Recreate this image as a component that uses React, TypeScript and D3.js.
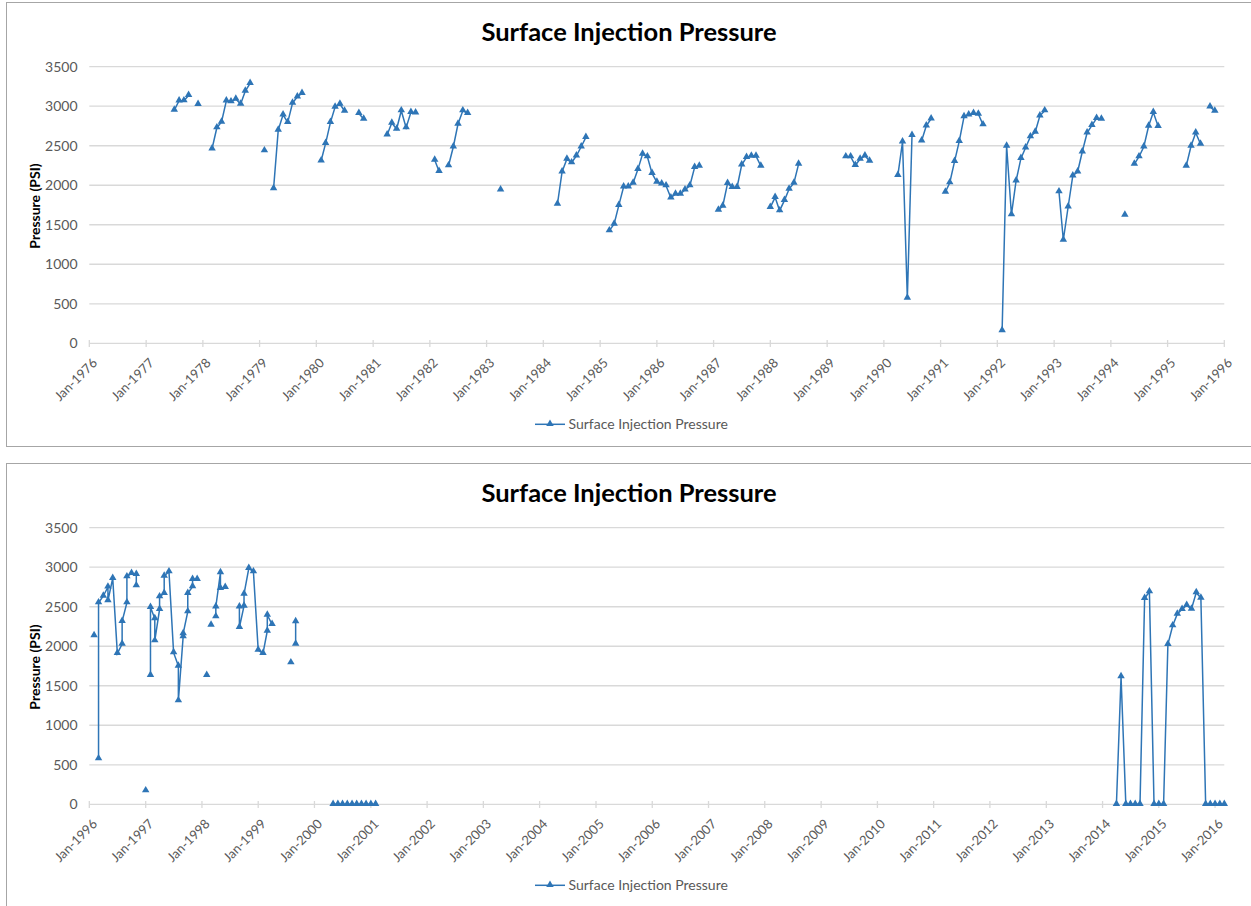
import React from 'react';
import * as d3 from 'd3';

// --- data (monthly readings, null = gap) ---
const topMonths = [
  '1977-07', '1977-08', '1977-09', '1977-10', '1977-11',
  '1977-12', '1978-01',
  '1978-03', '1978-04', '1978-05', '1978-06', '1978-07', '1978-08', '1978-09', '1978-10', '1978-11', '1978-12',
  '1979-02', '1979-03',
  '1979-04', '1979-05', '1979-06', '1979-07', '1979-08', '1979-09', '1979-10', '1979-11',
  '1980-02', '1980-03', '1980-04', '1980-05', '1980-06', '1980-07', '1980-08',
  '1980-10', '1980-11', '1980-12',
  '1981-04', '1981-05', '1981-06', '1981-07', '1981-08', '1981-09', '1981-10', '1981-11',
  '1982-02', '1982-03', '1982-04',
  '1982-05', '1982-06', '1982-07', '1982-08', '1982-09', '1982-10',
  '1983-04', '1983-05',
  '1984-04', '1984-05', '1984-06', '1984-07', '1984-08', '1984-09', '1984-10', '1984-11',
  '1985-03', '1985-04', '1985-05', '1985-06', '1985-07', '1985-08', '1985-09', '1985-10', '1985-11', '1985-12',
  '1986-01', '1986-02', '1986-03', '1986-04', '1986-05', '1986-06', '1986-07', '1986-08', '1986-09', '1986-10', '1986-11',
  '1987-02', '1987-03', '1987-04', '1987-05', '1987-06', '1987-07', '1987-08', '1987-09', '1987-10', '1987-11', '1987-12',
  '1988-01', '1988-02', '1988-03', '1988-04', '1988-05', '1988-06', '1988-07', '1988-08',
  '1989-05', '1989-06', '1989-07', '1989-08', '1989-09', '1989-10', '1989-11',
  '1990-04', '1990-05', '1990-06', '1990-07', '1990-08',
  '1990-09', '1990-10', '1990-11', '1990-12',
  '1991-02', '1991-03', '1991-04', '1991-05', '1991-06', '1991-07', '1991-08', '1991-09', '1991-10', '1991-11',
  '1992-02', '1992-03', '1992-04', '1992-05', '1992-06', '1992-07', '1992-08', '1992-09', '1992-10', '1992-11', '1992-12',
  '1993-02', '1993-03', '1993-04', '1993-05', '1993-06', '1993-07', '1993-08', '1993-09', '1993-10', '1993-11', '1993-12',
  '1994-04', '1994-05',
  '1994-06', '1994-07', '1994-08', '1994-09', '1994-10', '1994-11', '1994-12',
  '1995-05', '1995-06', '1995-07', '1995-08', '1995-09',
  '1995-10', '1995-11',
];
const topPsi = [
  2951, 3069, 3070, 3137, null,
  3023, null,
  2462, 2728, 2800, 3069, 3057, 3090, 3027, 3191, 3289, null,
  2437, null,
  1957, 2698, 2892, 2796, 3040, 3120, 3162, null,
  2310, 2530, 2796, 2989, 3027, 2939, null,
  2909, 2837, null,
  2639, 2787, 2711, 2943, 2728, 2922, 2917, null,
  2319, 2176, null,
  2247, 2487, 2774, 2943, 2909, null,
  1943, null,
  1762, 2171, 2331, 2285, 2373, 2487, 2606, null,
  1425, 1509, 1745, 1981, 1981, 2028, 2201, 2395, 2361, 2150,
  2040, 2019, 1994, 1842, 1889, 1889, 1943, 1994, 2226, 2243, null,
  1686, 1737, 2024, 1973, 1973, 2259, 2353, 2369, 2369, 2243, null,
  1720, 1847, 1678, 1809, 1952, 2028, 2268, null,
  2361, 2361, 2252, 2331, 2373, 2306, null,
  2125, 2550, 573, 2631, null,
  2563, 2753, 2841, null,
  1914, 2032, 2302, 2555, 2870, 2890, 2909, 2901, 2766, null,
  160, 2496, 1627, 2057, 2340, 2474, 2614, 2673, 2879, 2943, null,
  1918, 1307, 1728, 2120, 2171, 2424, 2664, 2758, 2846, 2837, null,
  1623, null,
  2268, 2361, 2487, 2749, 2922, 2745, null,
  2243, 2496, 2664, 2521, null,
  2993, 2939,
];

// second chart: several readings can fall in the same month
const bottomMonths = [
  '1996-02', '1996-02',
  '1996-03', '1996-03', '1996-04', '1996-05', '1996-05', '1996-06', '1996-07', '1996-08', '1996-08',
  '1996-09', '1996-09', '1996-10', '1996-11', '1996-11', '1996-11',
  '1997-01', '1997-01',
  '1997-02', '1997-02', '1997-03', '1997-03', '1997-04', '1997-04', '1997-05', '1997-05', '1997-06',
  '1997-07', '1997-08', '1997-08', '1997-09', '1997-09', '1997-10', '1997-10', '1997-11', '1997-11',
  '1997-12', '1997-12',
  '1998-02', '1998-02',
  '1998-03', '1998-03',
  '1998-04', '1998-04', '1998-05', '1998-05', '1998-06', '1998-06',
  '1998-09', '1998-09', '1998-10', '1998-10', '1998-11', '1998-12', '1999-01', '1999-02', '1999-03',
  '1999-03', '1999-04', '1999-04',
  '1999-08', '1999-08',
  '1999-09', '1999-09', '1999-09',
  '2000-05', '2000-06', '2000-07', '2000-08', '2000-09', '2000-10', '2000-11', '2000-12', '2001-01',
  '2001-02', '2001-02',
  '2014-04', '2014-05', '2014-06', '2014-07', '2014-08', '2014-09', '2014-10', '2014-11', '2014-12',
  '2015-01', '2015-02', '2015-03', '2015-04', '2015-05', '2015-06', '2015-07', '2015-08', '2015-09',
  '2015-10', '2015-11', '2015-12', '2016-01', '2016-02', '2016-03',
];
const bottomPsi = [
  2134, null,
  577, 2551, 2636, 2750, 2577, 2860, 1910, 2028, 2315,
  2551, 2880, 2923, 2910, 2766, null,
  172, null,
  1632, 2493, 2350, 2070, 2467, 2627, 2670, 2889, 2943,
  1919, 1750, 1311, 2121, 2160, 2437, 2670, 2754, 2847,
  2847, null,
  1632, null,
  2269, null,
  2374, 2500, 2931, 2733, 2746, null,
  2500, 2239, 2509, 2661, 2986, 2943, 1952, 1910, 2193,
  2395, 2277, null,
  1792, null,
  2028, 2311, null,
  0, 0, 0, 0, 0, 0, 0, 0, 0,
  0, null,
  0, 1615, 0, 0, 0, 0, 2606, 2690, 0,
  0, 0, 2024, 2260, 2408, 2467, 2518, 2471, 2678,
  2610, 0, 0, 0, 0, 0,
];

const psiTicks = [0, 500, 1000, 1500, 2000, 2500, 3000, 3500];
const chartTitle = 'Surface Injection Pressure';
const axisTitle = 'Pressure (PSI)';

const BLUE = '#2e75b6';
const GRID = '#d9d9d9';
const LABEL = '#595959';
const FONT = 'Lato, "Open Sans", sans-serif';

const parseMonth = d3.timeParse('%Y-%m');
const fmtTick = d3.timeFormat('Jan-%Y');

const Panel = ({ months, psi, start, end, top, boxH }) => {
  const x = d3.scaleTime().domain([parseMonth(start), parseMonth(end)]).range([89.3, 1224.3]);
  const y = d3.scaleLinear().domain([0, 3500]).range([343.3, 66.7]);
  const pts = months.map((m, i) => ({ d: parseMonth(m), v: psi[i] }));
  const line = d3.line()
    .defined(p => p.v != null)
    .x(p => x(p.d))
    .y(p => y(p.v));
  const tri = d3.symbol(d3.symbolTriangle, 24)();
  const years = x.ticks(d3.timeYear.every(1));

  return (
    <g transform={`translate(0,${top})`}>
      <rect x={6.5} y={2.5} width={1250} height={boxH} fill="#fff" stroke="#a6a6a6" />
      <text x={629} y={40.5} textAnchor="middle" fontFamily={FONT} fontWeight="bold" fontSize={25.5} fill="#000">
        {chartTitle}
      </text>

      {/* grid + y labels */}
      {psiTicks.map(t => (
        <g key={t}>
          <line x1={89.3} x2={1224.3} y1={y(t)} y2={y(t)} stroke={GRID} strokeWidth={1.3} />
          <text x={77.5} y={y(t)} dy="0.35em" textAnchor="end" fontFamily={FONT} fontSize={14} fill={LABEL}>{t}</text>
        </g>
      ))}
      <text transform={`translate(35,206) rotate(-90)`} textAnchor="middle" dy="0.35em"
        fontFamily={FONT} fontWeight="bold" fontSize={14} fill="#000">{axisTitle}</text>

      {/* x ticks */}
      {years.map(d => (
        <g key={+d}>
          <line x1={x(d)} x2={x(d)} y1={340} y2={347} stroke={GRID} strokeWidth={1.3} />
          <text transform={`translate(${x(d) + 5.5},360.5) rotate(-45)`} textAnchor="end" dy="0.35em"
            fontFamily={FONT} fontSize={13} fill={LABEL}>{fmtTick(d)}</text>
        </g>
      ))}

      <path d={line(pts)} fill="none" stroke={BLUE} strokeWidth={1.5} />
      {pts.filter(p => p.v != null).map((p, i) => (
        <path key={i} d={tri} transform={`translate(${x(p.d)},${y(p.v) - 0.5})`} fill={BLUE} />
      ))}

      {/* legend */}
      <line x1={535} x2={565} y1={424.3} y2={424.3} stroke={BLUE} strokeWidth={1.5} />
      <path d={tri} transform="translate(550,423.8)" fill={BLUE} />
      <text x={568.5} y={424.3} dy="0.35em" fontFamily={FONT} fontSize={14} fill={LABEL}>{chartTitle}</text>
    </g>
  );
};

export default function App() {
  return (
    <svg width={1251} height={906} style={{ position: 'absolute', left: 0, top: 0, background: '#fff' }}>
      <Panel months={topMonths} psi={topPsi} start="1976-01" end="1996-01" top={0} boxH={444} />
      <Panel months={bottomMonths} psi={bottomPsi} start="1996-01" end="2016-03" top={461} boxH={460} />
    </svg>
  );
}
